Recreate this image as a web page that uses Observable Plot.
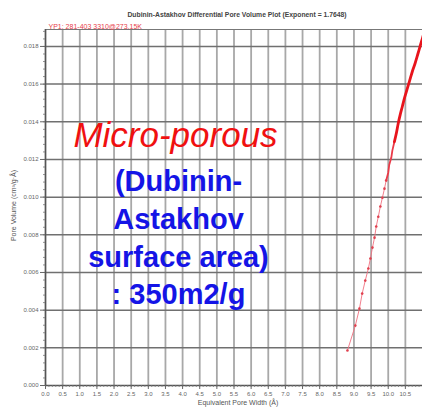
<!DOCTYPE html>
<html>
<head>
<meta charset="utf-8">
<script src="https://cdn.jsdelivr.net/npm/d3@7"></script>
<script src="https://cdn.jsdelivr.net/npm/@observablehq/plot@0.6"></script>
<style>
  html, body { margin: 0; padding: 0; background: #fff; }
  #chart svg { display: block; }
</style>
</head>
<body>
<div id="chart"></div>
<script>
// Dubinin-Astakhov differential pore volume (cm³/g·Å) vs. equivalent pore width (Å)
const poreWidth = [
  8.81, 9.04, 9.16, 9.24, 9.33, 9.42, 9.48, 9.54, 9.60, 9.65, 9.71, 9.77, 9.83, 9.89, 9.94, 10.00, 10.03, 10.09, 10.12,
  10.18, 10.24, 10.29, 10.35, 10.41, 10.47, 10.53, 10.59, 10.65, 10.71, 10.78, 10.84, 10.90, 10.96, 11.02, 11.08
];
const poreVolume = [
  0.00186, 0.00318, 0.00408, 0.00488, 0.00557, 0.00621, 0.00674, 0.00732, 0.00785, 0.00844, 0.00896, 0.00950, 0.00997, 0.01045, 0.01088, 0.01130, 0.01172, 0.01210, 0.01247,
  0.01294, 0.01342, 0.01390, 0.01438, 0.01480, 0.01523, 0.01560, 0.01597, 0.01634, 0.01671, 0.01708, 0.01745, 0.01782, 0.01820, 0.01857, 0.01894
];
// sampling gets denser with width: sparse dots, then a tighter run, then a solid curve
const midFrom = 14;
const denseFrom = 19;

const xTicks = d3.range(0, 11, 0.5);
const xMinor = d3.range(0, 11.01, 0.1);
const yTicks = [0, 0.002, 0.004, 0.006, 0.008, 0.010, 0.012, 0.014, 0.016, 0.018];
const yMinor = d3.range(0, 0.0189, 0.0004);

const title = "Dubinin-Astakhov Differential Pore Volume Plot (Exponent = 1.7648)";
const sampleNote = "YP1: 281-403 3310@273.15K";
const xLabel = "Equivalent Pore Width (Å)";
const yLabel = "Pore Volume (cm³/g·Å)";
const headline = "Micro-porous";
const detail = ["(Dubinin-", "Astakhov", "surface area)", ": 350m2/g"];

const points = poreWidth.map((x, i) => ({x, y: poreVolume[i], i}));
const sparse = points.filter(d => d.i <= midFrom);
const mid = points.filter(d => d.i >= midFrom && d.i <= denseFrom);
const dense = points.filter(d => d.i >= denseFrom);

const small = {fontSize: 6, fill: "#555", fontFamily: "Liberation Sans, Arial, sans-serif"};

const chart = Plot.plot({
  width: 422,
  height: 410,
  marginTop: 29,
  marginBottom: 25,
  marginLeft: 45,
  marginRight: 0,
  style: {fontFamily: "Liberation Sans, Arial, sans-serif", background: "#fff"},
  x: {type: "linear", domain: [0, 11.0]},
  y: {type: "linear", domain: [0, 0.0189]},
  marks: [
    Plot.gridX(xTicks, {stroke: "#a8a8a8", strokeOpacity: 1, strokeWidth: 1.8}),
    Plot.gridY(yTicks.slice(1), {stroke: "#707070", strokeOpacity: 1, strokeWidth: 1.5}),
    Plot.ruleY([0.0189], {stroke: "#777", strokeWidth: 1.2}),
    Plot.ruleY([0], {stroke: "#555", strokeWidth: 1.4}),
    Plot.ruleX([0], {stroke: "#555", strokeWidth: 1.4}),
    // axes
    Plot.axisX(xMinor, {tickSize: 2, stroke: "#777", strokeWidth: 0.8, text: null, label: null}),
    Plot.axisX(xTicks, {tickFormat: d => d.toFixed(1), tickSize: 4, stroke: "#666", fill: "#666", fontSize: 6, tickPadding: 2, label: null}),
    Plot.axisY(yMinor, {tickSize: 2, stroke: "#777", strokeWidth: 0.8, text: null, label: null}),
    Plot.axisY(yTicks, {tickFormat: d => d.toFixed(3), tickSize: 5, stroke: "#666", fill: "#666", fontSize: 6, tickPadding: 2, label: null}),
    Plot.text([xLabel], {...small, fontSize: 7, frameAnchor: "bottom", textAnchor: "middle", dx: 4, dy: 19}),
    Plot.text([yLabel], {...small, fontSize: 7, frameAnchor: "left", textAnchor: "middle", rotate: -90, dx: -32, dy: -2}),
    // header
    Plot.text([title], {...small, fill: "#444", frameAnchor: "top", textAnchor: "middle", dx: 3, dy: -17, fontSize: 6.8, fontWeight: "bold"}),
    Plot.text([sampleNote], {...small, fill: "#e8404a", fontSize: 7, frameAnchor: "top-left", textAnchor: "start", dx: 3, dy: -5}),
    // data
    Plot.line(sparse, {x: "x", y: "y", stroke: "#f07080", strokeWidth: 0.9, clip: true}),
    Plot.dot(sparse, {x: "x", y: "y", r: 1.3, fill: "#e0404e", stroke: "none", clip: true}),
    Plot.line(mid, {x: "x", y: "y", stroke: "#ea3a48", strokeWidth: 1.8, clip: true}),
    Plot.line(dense, {x: "x", y: "y", stroke: "#e8141c", strokeWidth: 2.8, clip: true, curve: "catmull-rom"}),
    // annotation
    Plot.text([headline], {frameAnchor: "top-left", textAnchor: "middle", dx: 130, dy: 106, lineAnchor: "middle", fontSize: 35, fontStyle: "italic", fill: "#f01010"}),
    Plot.text([detail.join("\n")], {frameAnchor: "top-left", textAnchor: "middle", dx: 133, dy: 135, lineAnchor: "top", lineHeight: 1.3, fontSize: 29, fontWeight: "bold", fill: "#1414e6"})
  ]
});

document.getElementById("chart").append(chart);
</script>
</body>
</html>
